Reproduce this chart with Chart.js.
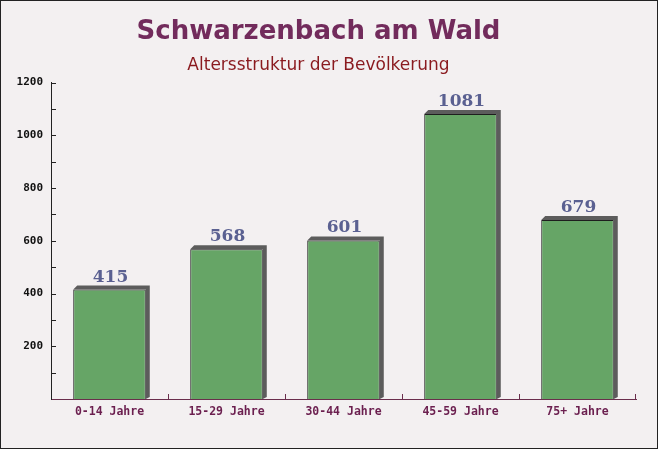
<!DOCTYPE html>
<html>
<head>
<meta charset="utf-8">
<script src="https://cdn.jsdelivr.net/npm/chart.js@4/dist/chart.umd.min.js"></script>
<style>
  html, body { margin: 0; padding: 0; background: #f3f0f1; }
  #wrap { width: 658px; height: 449px; position: relative; box-sizing: border-box; border: 1px solid #222; }
  canvas { display: block; }
</style>
</head>
<body>
<div id="wrap"><canvas id="myChart" width="656" height="447"></canvas></div>
<script>
const categories = ['0-14 Jahre', '15-29 Jahre', '30-44 Jahre', '45-59 Jahre', '75+ Jahre'];
const einwohner = [415, 568, 601, 1081, 679];
const yTicks = [200, 400, 600, 800, 1000, 1200];

// grey 3d side of each bar, drawn behind the bars
const depth = 4;
const shadowPlugin = {
    id: 'shadow',
    beforeDatasetsDraw(chart) {
        const ctx = chart.ctx;
        const bars = chart.getDatasetMeta(0).data;
        ctx.save();
        ctx.fillStyle = '#5c5c5c';
        bars.forEach(b => {
            const l = b.x - b.width / 2, r = b.x + b.width / 2;
            ctx.beginPath();
            ctx.moveTo(l, b.y);
            ctx.lineTo(l + depth, b.y - depth);
            ctx.lineTo(r + depth, b.y - depth);
            ctx.lineTo(r + depth, b.base - 2);
            ctx.lineTo(r, b.base);
            ctx.lineTo(r, b.y);
            ctx.closePath();
            ctx.fill();
        });
        ctx.restore();
    },
    afterDatasetsDraw(chart) {
        const ctx = chart.ctx;
        const bars = chart.getDatasetMeta(0).data;
        ctx.save();
        ctx.font = 'bold 17px "DejaVu Serif"';
        ctx.fillStyle = '#5a6091';
        ctx.textAlign = 'center';
        ctx.textBaseline = 'bottom';
        bars.forEach((b, i) => {
            ctx.fillText(String(einwohner[i]), b.x + 1, b.y - depth);
        });
        // inward ticks
        const xs = chart.scales.x, ys = chart.scales.y;
        const area = chart.chartArea;
        ctx.strokeStyle = '#222';
        ctx.lineWidth = 1;
        for (let v = 100; v <= 1200; v += 100) {
            const py = Math.round(ys.getPixelForValue(v)) + 0.5;
            ctx.beginPath();
            ctx.moveTo(area.left, py);
            ctx.lineTo(area.left + 5, py);
            ctx.stroke();
        }
        ctx.strokeStyle = '#6a2e4c';
        for (let i = 1; i <= categories.length; i++) {
            const px = Math.round((xs.getPixelForValue(i - 1) + xs.getPixelForValue(Math.min(i, categories.length - 1))) / 2) + 0.5;
            const x = i === categories.length ? area.right - 0.5 : px;
            ctx.beginPath();
            ctx.moveTo(x, area.bottom);
            ctx.lineTo(x, area.bottom - 5);
            ctx.stroke();
        }
        ctx.restore();
    }
};

const data = {
    labels: categories,
    datasets: [{
        data: einwohner,
        backgroundColor: '#66a566',
        borderColor: '#1e1e1e',
        borderWidth: 1,
        borderSkipped: 'bottom',
        categoryPercentage: 0.62,
        barPercentage: 1
    }]
};

const options = {
    responsive: false,
    animation: false,
    layout: { padding: { top: 0, right: 21, bottom: 0, left: 0 } },
    plugins: {
        legend: { display: false },
        tooltip: { enabled: false },
        title: {
            display: true,
            text: 'Schwarzenbach am Wald',
            color: '#722b5c',
            font: { family: '"DejaVu Sans"', size: 26, weight: 'bold' },
            padding: { top: 16, bottom: 0 }
        },
        subtitle: {
            display: true,
            text: 'Altersstruktur der Bevölkerung',
            color: '#8a1a1f',
            font: { family: '"DejaVu Sans"', size: 17 },
            padding: { top: 7, bottom: 7 }
        }
    },
    scales: {
        x: {
            grid: { display: false, drawTicks: false },
            border: { color: '#6a2e4c', width: 1 },
            ticks: {
                color: '#6b1f4f',
                font: { family: '"DejaVu Sans Mono"', size: 11.5, weight: 'bold' },
                padding: 6
            },
            afterFit(scale) { scale.height = 49; }
        },
        y: {
            min: 0,
            max: 1200,
            grid: { display: false, drawTicks: false },
            border: { color: '#222', width: 1 },
            afterBuildTicks(scale) { scale.ticks = yTicks.map(v => ({ value: v })); },
            ticks: {
                color: '#111',
                font: { family: '"DejaVu Sans Mono"', size: 11, weight: 'bold' },
                padding: 8,
                callback: v => String(v)
            },
            afterFit(scale) { scale.width = 50; }
        }
    }
};

new Chart(document.getElementById('myChart'), {
    type: 'bar',
    data,
    options,
    plugins: [shadowPlugin]
});
</script>
</body>
</html>
